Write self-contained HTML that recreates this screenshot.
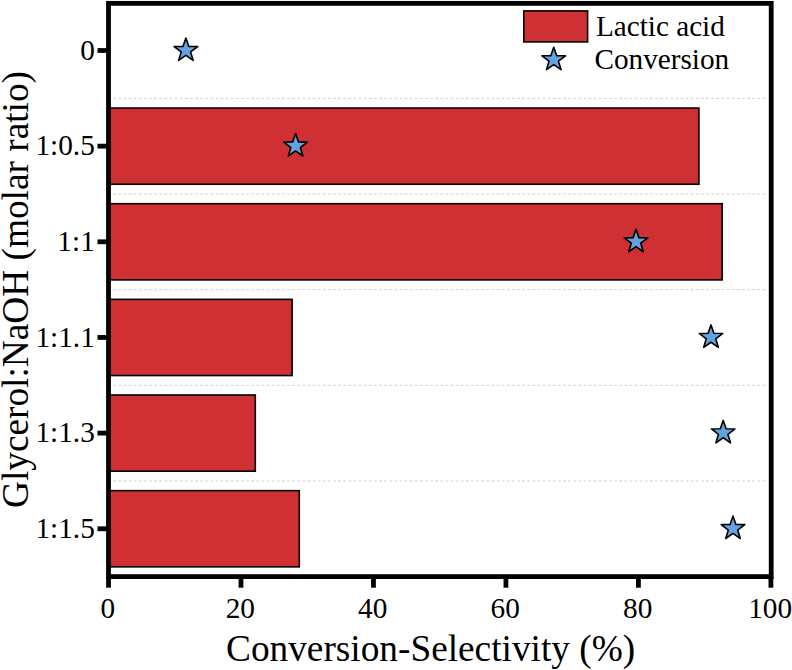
<!DOCTYPE html>
<html><head><meta charset="utf-8"><style>
html,body{margin:0;padding:0;background:#fff;}
svg{display:block;}
text{font-family:"Liberation Serif",serif;fill:#000;}
</style></head><body>
<svg width="792" height="670" viewBox="0 0 792 670">
<rect width="792" height="670" fill="#fff"/>
<line x1="113.35" x2="766" y1="98.33" y2="98.33" stroke="#cfcfcf" stroke-width="1" stroke-dasharray="2.7 2.411"/>
<line x1="113.35" x2="766" y1="193.98" y2="193.98" stroke="#cfcfcf" stroke-width="1" stroke-dasharray="2.7 2.411"/>
<line x1="113.35" x2="766" y1="289.63" y2="289.63" stroke="#cfcfcf" stroke-width="1" stroke-dasharray="2.7 2.411"/>
<line x1="113.35" x2="766" y1="385.28" y2="385.28" stroke="#cfcfcf" stroke-width="1" stroke-dasharray="2.7 2.411"/>
<line x1="113.35" x2="766" y1="480.93" y2="480.93" stroke="#cfcfcf" stroke-width="1" stroke-dasharray="2.7 2.411"/>
<rect x="108.50" y="108.05" width="590.40" height="76.2" fill="#CE3033" stroke="#000" stroke-width="1.6"/>
<rect x="108.50" y="203.70" width="613.70" height="76.2" fill="#CE3033" stroke="#000" stroke-width="1.6"/>
<rect x="108.50" y="299.35" width="183.60" height="76.2" fill="#CE3033" stroke="#000" stroke-width="1.6"/>
<rect x="108.50" y="395.00" width="146.80" height="76.2" fill="#CE3033" stroke="#000" stroke-width="1.6"/>
<rect x="108.50" y="490.65" width="190.80" height="76.2" fill="#CE3033" stroke="#000" stroke-width="1.6"/>
<polygon points="185.90,38.00 188.82,46.39 197.69,46.57 190.62,51.93 193.19,60.43 185.90,55.36 178.61,60.43 181.18,51.93 174.11,46.57 182.98,46.39" fill="#62A2DE" stroke="#000" stroke-width="1.6" stroke-linejoin="round"/>
<polygon points="295.60,133.60 298.52,141.99 307.39,142.17 300.32,147.53 302.89,156.03 295.60,150.96 288.31,156.03 290.88,147.53 283.81,142.17 292.68,141.99" fill="#62A2DE" stroke="#000" stroke-width="1.6" stroke-linejoin="round"/>
<polygon points="636.00,229.30 638.92,237.69 647.79,237.87 640.72,243.23 643.29,251.73 636.00,246.66 628.71,251.73 631.28,243.23 624.21,237.87 633.08,237.69" fill="#62A2DE" stroke="#000" stroke-width="1.6" stroke-linejoin="round"/>
<polygon points="711.00,324.90 713.92,333.29 722.79,333.47 715.72,338.83 718.29,347.33 711.00,342.26 703.71,347.33 706.28,338.83 699.21,333.47 708.08,333.29" fill="#62A2DE" stroke="#000" stroke-width="1.6" stroke-linejoin="round"/>
<polygon points="723.20,420.40 726.12,428.79 734.99,428.97 727.92,434.33 730.49,442.83 723.20,437.76 715.91,442.83 718.48,434.33 711.41,428.97 720.28,428.79" fill="#62A2DE" stroke="#000" stroke-width="1.6" stroke-linejoin="round"/>
<polygon points="733.00,516.10 735.92,524.49 744.79,524.67 737.72,530.03 740.29,538.53 733.00,533.46 725.71,538.53 728.28,530.03 721.21,524.67 730.08,524.49" fill="#62A2DE" stroke="#000" stroke-width="1.6" stroke-linejoin="round"/>
<rect x="108.5" y="3.35" width="662.70" height="573.25" fill="none" stroke="#000" stroke-width="4.8"/>
<line x1="97.5" x2="108.5" y1="50.50" y2="50.50" stroke="#000" stroke-width="4.8"/>
<text x="94.8" y="59.70" font-size="29.3" text-anchor="end">0</text>
<line x1="97.5" x2="108.5" y1="146.15" y2="146.15" stroke="#000" stroke-width="4.8"/>
<text x="94.8" y="155.35" font-size="29.3" text-anchor="end">1:0.5</text>
<line x1="97.5" x2="108.5" y1="241.80" y2="241.80" stroke="#000" stroke-width="4.8"/>
<text x="94.8" y="251.00" font-size="29.3" text-anchor="end">1:1</text>
<line x1="97.5" x2="108.5" y1="337.45" y2="337.45" stroke="#000" stroke-width="4.8"/>
<text x="94.8" y="346.65" font-size="29.3" text-anchor="end">1:1.1</text>
<line x1="97.5" x2="108.5" y1="433.10" y2="433.10" stroke="#000" stroke-width="4.8"/>
<text x="94.8" y="442.30" font-size="29.3" text-anchor="end">1:1.3</text>
<line x1="97.5" x2="108.5" y1="528.75" y2="528.75" stroke="#000" stroke-width="4.8"/>
<text x="94.8" y="537.95" font-size="29.3" text-anchor="end">1:1.5</text>
<line x1="108.50" x2="108.50" y1="576.6" y2="587.7" stroke="#000" stroke-width="4.8"/>
<text x="107.80" y="618.4" font-size="29.3" text-anchor="middle">0</text>
<line x1="240.98" x2="240.98" y1="576.6" y2="587.7" stroke="#000" stroke-width="4.8"/>
<text x="240.28" y="618.4" font-size="29.3" text-anchor="middle">20</text>
<line x1="373.46" x2="373.46" y1="576.6" y2="587.7" stroke="#000" stroke-width="4.8"/>
<text x="372.76" y="618.4" font-size="29.3" text-anchor="middle">40</text>
<line x1="505.94" x2="505.94" y1="576.6" y2="587.7" stroke="#000" stroke-width="4.8"/>
<text x="505.24" y="618.4" font-size="29.3" text-anchor="middle">60</text>
<line x1="638.42" x2="638.42" y1="576.6" y2="587.7" stroke="#000" stroke-width="4.8"/>
<text x="637.72" y="618.4" font-size="29.3" text-anchor="middle">80</text>
<line x1="770.90" x2="770.90" y1="576.6" y2="587.7" stroke="#000" stroke-width="4.8"/>
<text x="770.20" y="618.4" font-size="29.3" text-anchor="middle">100</text>
<text x="430.6" y="660.8" font-size="37.3" text-anchor="middle">Conversion-Selectivity (%)</text>
<text transform="translate(27.6,289.5) rotate(-90)" font-size="37.3" text-anchor="middle">Glycerol:NaOH (molar ratio)</text>
<rect x="523.8" y="10.9" width="63.8" height="31" fill="#CE3033" stroke="#000" stroke-width="1.6"/>
<polygon points="553.75,47.20 556.67,55.59 565.54,55.77 558.47,61.13 561.04,69.63 553.75,64.56 546.46,69.63 549.03,61.13 541.96,55.77 550.83,55.59" fill="#62A2DE" stroke="#000" stroke-width="1.6" stroke-linejoin="round"/>
<text x="596" y="36.25" font-size="29.2">Lactic acid</text>
<text x="594.5" y="69" font-size="29.2">Conversion</text>
</svg></body></html>
